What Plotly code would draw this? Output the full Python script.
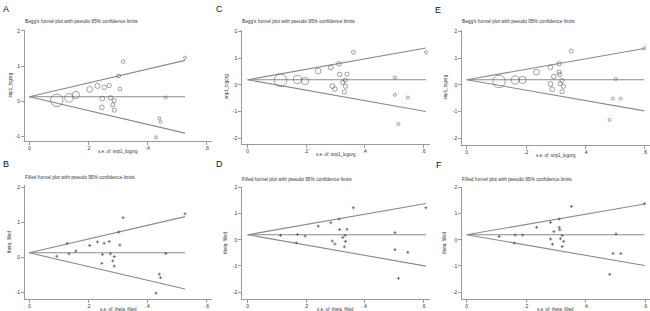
import plotly.graph_objects as go

# ---------------- data ----------------
# Panel A / B : snp1_logorg
se_A = [0.093, 0.134, 0.157, 0.204, 0.230, 0.253, 0.270, 0.247, 0.245, 0.274, 0.287, 0.282, 0.287,
        0.302, 0.306, 0.317, 0.439, 0.443, 0.461, 0.428, 0.526]
y_A = [0.03, 0.10, 0.18, 0.34, 0.44, 0.40, 0.45, 0.08, -0.17, 0.10, 0.02, -0.10, -0.25,
       0.72, 0.35, 1.13, -0.48, -0.58, 0.11, -1.02, 1.24]
theta_A = 0.13
filled_se_B = [0.128]
filled_y_B = [0.40]

# Panel C / D
se_C = [0.112, 0.170, 0.196, 0.241, 0.284, 0.312, 0.314, 0.339, 0.289, 0.298, 0.325, 0.333, 0.334,
        0.330, 0.361, 0.503, 0.503, 0.547, 0.515, 0.609]
y_C = [0.17, 0.20, 0.14, 0.52, 0.65, 0.79, 0.39, 0.40, -0.05, -0.16, 0.09, 0.17, -0.06,
       -0.27, 1.22, 0.27, -0.38, -0.48, -1.47, 1.22]
theta_C = 0.19
filled_se_D = [0.166]
filled_y_D = [-0.12]

# Panel E / F
se_E = [0.109, 0.163, 0.188, 0.235, 0.282, 0.293, 0.282, 0.288, 0.311, 0.311, 0.313, 0.315, 0.321,
        0.326, 0.321, 0.352, 0.502, 0.492, 0.518, 0.481, 0.598]
y_E = [0.125, 0.18, 0.18, 0.475, 0.66, 0.31, 0.03, -0.17, 0.79, 0.475, 0.38, 0.04, 0.16,
       -0.06, -0.26, 1.27, 0.22, -0.52, -0.52, -1.32, 1.375]
theta_E = 0.19
filled_se_F = [0.160]
filled_y_F = [-0.125]

x_tickvals = [0, 0.2, 0.4, 0.6]
x_ticktext = ["0", ".2", ".4", ".6"]

title_begg = "Begg's funnel plot with pseudo 95% confidence limits"
title_filled = "Filled funnel plot with pseudo 95% confidence limits"

# ---------------- layout geometry (pixels) ----------------
W, H = 650, 311
FONT = "Liberation Sans, Arial, sans-serif"
LINE_COL = "#8a8a8a"
AXIS_COL = "#9a9a9a"
MARK_COL = "#555555"
TEXT_COL = "#333333"

panels = [
    dict(letter="A", se=se_A, y=y_A, theta=theta_A, filled=None, begg=True,
         box=(25, 212, 28, 140), x0=29.3, xu=296, y0=100, yu=35.5, yt=[-1, 0, 1, 2],
         ytitle="snp1_logorg", xtitle="s.e. of: snp1_logorg", title=title_begg,
         lpos=(0.5, 0.5), ytx=10),
    dict(letter="B", se=se_A, y=y_A, theta=theta_A, filled=(filled_se_B, filled_y_B), begg=False,
         box=(25, 212, 184, 299), x0=29.3, xu=296, y0=257, yu=35.3, yt=[-1, 0, 1, 2],
         ytitle="theta, filled", xtitle="s.e. of: theta, filled", title=title_filled,
         lpos=(0.5, 156), ytx=10),
    dict(letter="C", se=se_C, y=y_C, theta=theta_C, filled=None, begg=True,
         box=(242.3, 430, 28, 143.3), x0=247.7, xu=292.7, y0=83.3, yu=26.8, yt=[-2, -1, 0, 1, 2],
         ytitle="snp1_logorg", xtitle="s.e. of: snp1_logorg", title=title_begg,
         lpos=(214, 0.5), ytx=226),
    dict(letter="D", se=se_C, y=y_C, theta=theta_C, filled=(filled_se_D, filled_y_D), begg=False,
         box=(242.3, 430, 185.7, 299), x0=247.7, xu=292.7, y0=239.3, yu=26.4, yt=[-2, -1, 0, 1, 2],
         ytitle="theta, filled", xtitle="s.e. of: theta, filled", title=title_filled,
         lpos=(214, 156), ytx=226),
    dict(letter="E", se=se_E, y=y_E, theta=theta_E, filled=None, begg=True,
         box=(462.3, 650, 28, 144), x0=466.7, xu=297, y0=83.3, yu=26.8, yt=[-2, -1, 0, 1, 2],
         ytitle="snp1_logorg", xtitle="s.e. of: snp1_logorg", title=title_begg,
         lpos=(433, 1.5), ytx=445),
    dict(letter="F", se=se_E, y=y_E, theta=theta_E, filled=(filled_se_F, filled_y_F), begg=False,
         box=(462.3, 650, 185.7, 299), x0=466.7, xu=297.5, y0=239.3, yu=26.4, yt=[-2, -1, 0, 1, 2],
         ytitle="theta, filled", xtitle="s.e. of: theta, filled", title=title_filled,
         lpos=(434, 157), ytx=445),
]

fig = go.Figure()
annotations = []
layout_axes = {}


def px_x(p):
    return p / W


def px_y(p):
    return 1 - p / H


for i, p in enumerate(panels, start=1):
    xa = "x" if i == 1 else f"x{i}"
    ya = "y" if i == 1 else f"y{i}"
    left, right, top, bottom = p["box"]
    xr = [(left - p["x0"]) / p["xu"], (right - p["x0"]) / p["xu"]]
    yr = [(p["y0"] - bottom) / p["yu"], (p["y0"] - top) / p["yu"]]

    se, yv, th = p["se"], p["y"], p["theta"]
    semax = max(se)
    # pseudo 95% confidence limits + pooled line
    for slope in (0.0, 1.96, -1.96):
        fig.add_trace(go.Scatter(x=[0, semax], y=[th, th + slope * semax], mode="lines",
                                 xaxis=xa, yaxis=ya, line=dict(color=LINE_COL, width=1.1),
                                 showlegend=False, hoverinfo="skip"))

    if p["begg"]:
        semin = min(se)
        sizes = [max(3.0, 12.5 * semin / s) for s in se]
        fig.add_trace(go.Scatter(x=se, y=yv, mode="markers", xaxis=xa, yaxis=ya, showlegend=False,
                                 marker=dict(symbol="circle-open", size=sizes, color=MARK_COL,
                                             line=dict(width=0.8, color=MARK_COL))))
    else:
        fs, fy = p["filled"]
        fig.add_trace(go.Scatter(x=se + fs, y=yv + fy, mode="markers", xaxis=xa, yaxis=ya, showlegend=False,
                                 marker=dict(symbol="cross-thin", size=2.2, color=MARK_COL,
                                             line=dict(width=0.8, color=MARK_COL))))

    layout_axes["xaxis" if i == 1 else f"xaxis{i}"] = dict(
        domain=[px_x(left), px_x(right)], range=xr, anchor=ya,
        tickvals=x_tickvals, ticktext=x_ticktext, ticks="outside", ticklen=3, tickwidth=0.8,
        tickcolor=AXIS_COL, showline=True, linecolor=AXIS_COL, linewidth=1, showgrid=False,
        zeroline=False, tickfont=dict(size=5, family=FONT, color=TEXT_COL), fixedrange=True,
        ticklabelstandoff=-1)
    layout_axes["yaxis" if i == 1 else f"yaxis{i}"] = dict(
        domain=[px_y(bottom), px_y(top)], range=yr, anchor=xa,
        tickvals=p["yt"], ticktext=[str(v) for v in p["yt"]], ticks="outside", ticklen=3, tickwidth=0.8,
        tickcolor=AXIS_COL, showline=True, linecolor=AXIS_COL, linewidth=1, showgrid=False,
        zeroline=False, tickfont=dict(size=5, family=FONT, color=TEXT_COL), fixedrange=True,
        ticklabelstandoff=0)

    # panel title
    annotations.append(dict(text=p["title"], xref="paper", yref="paper", x=px_x(left - 2),
                            y=px_y(top - 8 if top < 100 else top - 7.5),
                            xanchor="left", yanchor="middle", showarrow=False,
                            font=dict(size=4.8, family=FONT, color=TEXT_COL)))
    # x-axis title
    annotations.append(dict(text=p["xtitle"], xref="paper", yref="paper",
                            x=px_x((p["x0"] + p["x0"] + 0.6 * p["xu"]) / 2), y=px_y(bottom + 10.5),
                            xanchor="center", yanchor="middle", showarrow=False,
                            font=dict(size=4.5, family=FONT, color=TEXT_COL)))
    # y-axis title
    annotations.append(dict(text=p["ytitle"], xref="paper", yref="paper", x=px_x(p["ytx"]),
                            y=px_y((top + bottom) / 2), xanchor="center", yanchor="middle",
                            textangle=-90, showarrow=False,
                            font=dict(size=4.5, family=FONT, color=TEXT_COL)))
    # panel letter
    lx, ly = p["lpos"]
    annotations.append(dict(text=p["letter"], xref="paper", yref="paper", x=px_x(lx), y=px_y(ly),
                            xanchor="left", yanchor="top", showarrow=False,
                            font=dict(size=9, family=FONT, color="#111111")))

fig.update_layout(width=W, height=H, margin=dict(l=0, r=0, t=0, b=0),
                  paper_bgcolor="white", plot_bgcolor="white",
                  annotations=annotations, showlegend=False, **layout_axes)

fig.write_html("out.html", config={"displayModeBar": False},
               post_script="document.body.style.margin='0px';")
